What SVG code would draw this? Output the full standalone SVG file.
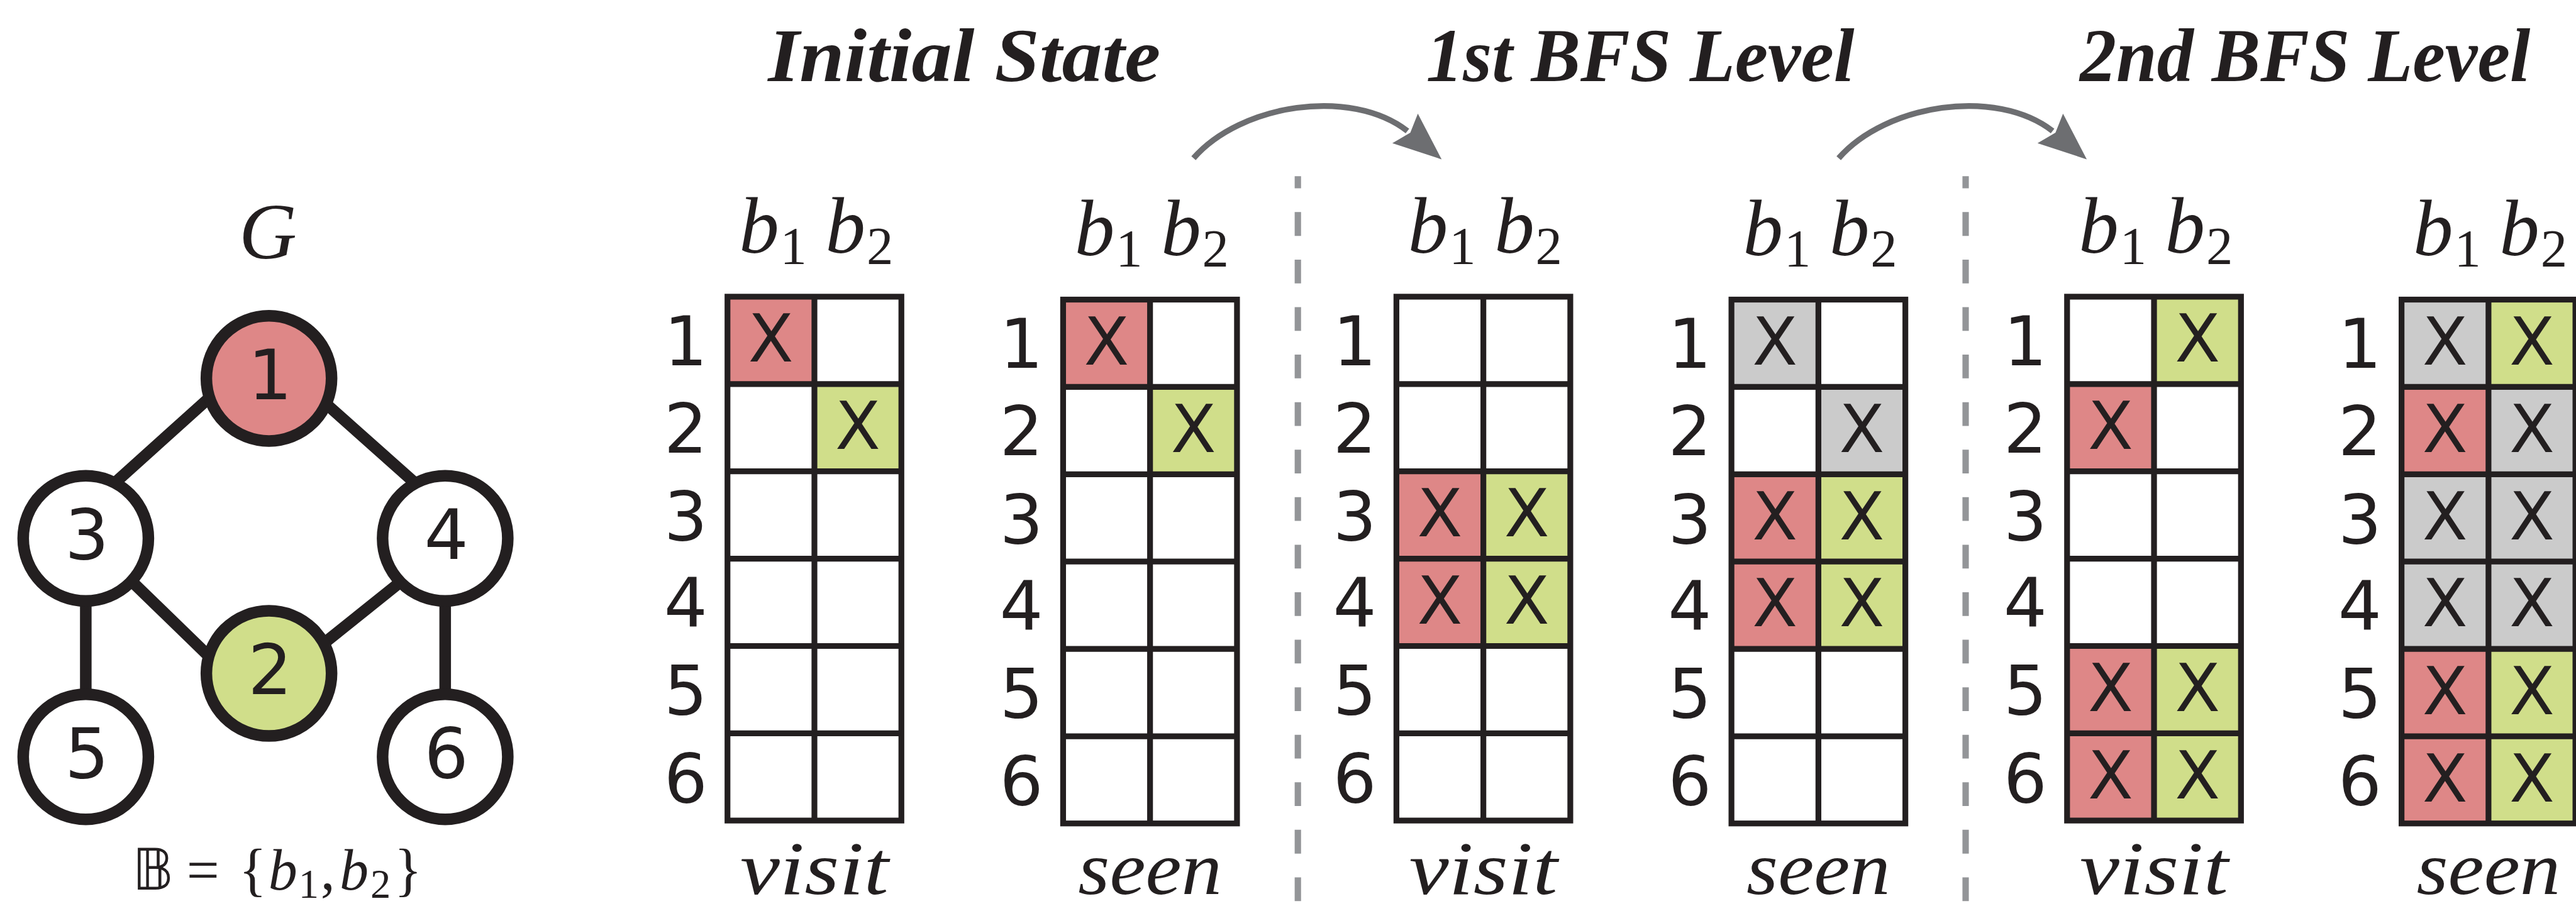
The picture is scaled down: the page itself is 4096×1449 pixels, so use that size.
<svg xmlns="http://www.w3.org/2000/svg" width="4096" height="1449" viewBox="0 0 4096 1449">
<style>
.bg{fill:#ffffff}
.edge{stroke:#231f20;stroke-width:20;fill:none}
.node{stroke:#231f20;stroke-width:20}
.gl{stroke:#231f20;stroke-width:10;fill:none}
.red{fill:#de8787}
.grn{fill:#d0de8a}
.gry{fill:#cbcbcb}
.num{font-family:"DejaVu Sans",sans-serif;font-size:118px;text-anchor:middle;fill:#231f20}
.nn{font-family:"DejaVu Sans",sans-serif;font-size:120px;text-anchor:middle;fill:#231f20}
.x{font-family:"DejaVu Sans",sans-serif;font-size:114px;text-anchor:middle;fill:#231f20}
.mi{font-family:"Liberation Serif",serif;font-style:italic;font-size:138px;fill:#231f20}
.sub{font-family:"Liberation Serif",serif;font-style:normal;font-size:92px;fill:#231f20}
.ttl{font-family:"Liberation Serif",serif;font-style:italic;font-weight:bold;font-size:130px;fill:#231f20}
.lbl{font-family:"Liberation Serif",serif;font-style:italic;font-size:132px;text-anchor:middle;fill:#231f20}
.dash{stroke:#939598;stroke-width:11;stroke-dasharray:41 41;stroke-dashoffset:20;fill:none}
.arr{stroke:#6d6e71;stroke-width:10;fill:none}
.ahead{fill:#6d6e71}
</style>
<defs>
<g id="arrow">
<path class="arr" d="M2059,273 C2140,180 2330,150 2428,226"/>
<polygon class="ahead" points="2487,275 2446,196 2433,229 2402,247"/>
</g>
</defs>
<rect class="bg" x="0" y="0" width="4096" height="1449"/>
<g transform="scale(0.9217)">

<!-- Graph -->
<g id="graph">
<text id="label-G" class="mi" x="462" y="446" font-size="172" text-anchor="middle">G</text>
<g id="edges">
<line class="edge" x1="365" y1="683" x2="195" y2="836"/>
<line class="edge" x1="557" y1="692" x2="721" y2="838"/>
<line class="edge" x1="223" y1="999" x2="364" y2="1136"/>
<line class="edge" x1="695" y1="1001" x2="554" y2="1114"/>
<line class="edge" x1="148" y1="929" x2="148" y2="1306"/>
<line class="edge" x1="768" y1="929" x2="768" y2="1306"/>
</g>
<g id="node1"><circle class="node red" cx="464" cy="653" r="108"/><text class="nn" x="466" y="689">1</text></g>
<g id="node2"><circle class="node grn" cx="464" cy="1162" r="108"/><text class="nn" x="466" y="1198">2</text></g>
<g id="node3"><circle class="node" fill="#fff" cx="148" cy="929" r="108"/><text class="nn" x="150" y="965">3</text></g>
<g id="node4"><circle class="node" fill="#fff" cx="768" cy="929" r="108"/><text class="nn" x="770" y="965">4</text></g>
<g id="node5"><circle class="node" fill="#fff" cx="148" cy="1306" r="108"/><text class="nn" x="150" y="1342">5</text></g>
<g id="node6"><circle class="node" fill="#fff" cx="768" cy="1306" r="108"/><text class="nn" x="770" y="1342">6</text></g>
<text id="bset" y="1535" font-size="100" fill="#231f20" font-family="Liberation Serif,serif"><tspan x="228" font-family="DejaVu Sans,DejaVu Serif,sans-serif" font-size="98">𝔹</tspan><tspan x="322">=</tspan><tspan x="412">{</tspan><tspan x="463" font-style="italic">b</tspan><tspan x="515" y="1549" font-size="70">1</tspan><tspan x="553" y="1535">,</tspan><tspan x="586" font-style="italic">b</tspan><tspan x="639" y="1549" font-size="70">2</tspan><tspan x="680" y="1535">}</tspan></text>
</g>

<!-- Titles -->
<text id="title-initial" class="ttl" x="1325" y="140" textLength="677" lengthAdjust="spacingAndGlyphs">Initial State</text>
<text id="title-1st" class="ttl" x="2460" y="140" textLength="739" lengthAdjust="spacingAndGlyphs">1st BFS Level</text>
<text id="title-2nd" class="ttl" x="3588" y="140" textLength="777" lengthAdjust="spacingAndGlyphs">2nd BFS Level</text>

<!-- Connectors -->
<g id="connectors">
<use href="#arrow"/>
<use href="#arrow" transform="translate(1113,0)"/>
<line class="dash" x1="2239" y1="304" x2="2239" y2="1572"/>
<line class="dash" x1="3391" y1="304" x2="3391" y2="1572"/>
</g>

<!-- Initial visit -->
<g id="visit0">
<rect class="red" x="1255" y="512" width="150" height="150.7"/>
<rect class="grn" x="1405" y="662.7" width="150" height="150.7"/>
<rect class="gl" x="1255" y="512" width="300" height="904"/>
<path class="gl" d="M1405,512V1416 M1255,662.7H1555 M1255,813.4H1555 M1255,964.1H1555 M1255,1114.8H1555 M1255,1265.5H1555"/>
<text class="x" x="1330" y="624">X</text><text class="x" x="1480" y="775">X</text>
<text class="num" x="1183" y="630">1</text><text class="num" x="1183" y="781">2</text><text class="num" x="1183" y="932">3</text><text class="num" x="1183" y="1082">4</text><text class="num" x="1183" y="1233">5</text><text class="num" x="1183" y="1384">6</text>
<text class="mi" x="1275" y="436">b</text><text class="sub" x="1346" y="456">1</text><text class="mi" x="1424" y="436">b</text><text class="sub" x="1495" y="456">2</text>
<text class="lbl" x="1405" y="1543" textLength="256" lengthAdjust="spacingAndGlyphs">visit</text>
</g>

<!-- Initial seen -->
<g id="seen0">
<rect class="red" x="1834" y="517" width="150" height="150.7"/>
<rect class="grn" x="1984" y="667.7" width="150" height="150.7"/>
<rect class="gl" x="1834" y="517" width="300" height="904"/>
<path class="gl" d="M1984,517V1421 M1834,667.7H2134 M1834,818.4H2134 M1834,969.1H2134 M1834,1119.8H2134 M1834,1270.5H2134"/>
<text class="x" x="1909" y="629">X</text><text class="x" x="2059" y="780">X</text>
<text class="num" x="1762" y="635">1</text><text class="num" x="1762" y="786">2</text><text class="num" x="1762" y="937">3</text><text class="num" x="1762" y="1087">4</text><text class="num" x="1762" y="1238">5</text><text class="num" x="1762" y="1389">6</text>
<text class="mi" x="1854" y="440">b</text><text class="sub" x="1925" y="460">1</text><text class="mi" x="2003" y="440">b</text><text class="sub" x="2074" y="460">2</text>
<text class="lbl" x="1984" y="1543" textLength="248" lengthAdjust="spacingAndGlyphs">seen</text>
</g>

<!-- 1st visit -->
<g id="visit1">
<rect class="red" x="2409" y="813.4" width="150" height="150.7"/>
<rect class="grn" x="2559" y="813.4" width="150" height="150.7"/>
<rect class="red" x="2409" y="964.1" width="150" height="150.7"/>
<rect class="grn" x="2559" y="964.1" width="150" height="150.7"/>
<rect class="gl" x="2409" y="512" width="300" height="904"/>
<path class="gl" d="M2559,512V1416 M2409,662.7H2709 M2409,813.4H2709 M2409,964.1H2709 M2409,1114.8H2709 M2409,1265.5H2709"/>
<text class="x" x="2484" y="926">X</text><text class="x" x="2634" y="926">X</text><text class="x" x="2484" y="1076">X</text><text class="x" x="2634" y="1076">X</text>
<text class="num" x="2337" y="630">1</text><text class="num" x="2337" y="781">2</text><text class="num" x="2337" y="932">3</text><text class="num" x="2337" y="1082">4</text><text class="num" x="2337" y="1233">5</text><text class="num" x="2337" y="1384">6</text>
<text class="mi" x="2429" y="436">b</text><text class="sub" x="2500" y="456">1</text><text class="mi" x="2578" y="436">b</text><text class="sub" x="2649" y="456">2</text>
<text class="lbl" x="2559" y="1543" textLength="256" lengthAdjust="spacingAndGlyphs">visit</text>
</g>

<!-- 1st seen -->
<g id="seen1">
<rect class="gry" x="2987" y="517" width="150" height="150.7"/>
<rect class="gry" x="3137" y="667.7" width="150" height="150.7"/>
<rect class="red" x="2987" y="818.4" width="150" height="150.7"/>
<rect class="grn" x="3137" y="818.4" width="150" height="150.7"/>
<rect class="red" x="2987" y="969.1" width="150" height="150.7"/>
<rect class="grn" x="3137" y="969.1" width="150" height="150.7"/>
<rect class="gl" x="2987" y="517" width="300" height="904"/>
<path class="gl" d="M3137,517V1421 M2987,667.7H3287 M2987,818.4H3287 M2987,969.1H3287 M2987,1119.8H3287 M2987,1270.5H3287"/>
<text class="x" x="3062" y="629">X</text><text class="x" x="3212" y="780">X</text><text class="x" x="3062" y="931">X</text><text class="x" x="3212" y="931">X</text><text class="x" x="3062" y="1081">X</text><text class="x" x="3212" y="1081">X</text>
<text class="num" x="2915" y="635">1</text><text class="num" x="2915" y="786">2</text><text class="num" x="2915" y="937">3</text><text class="num" x="2915" y="1087">4</text><text class="num" x="2915" y="1238">5</text><text class="num" x="2915" y="1389">6</text>
<text class="mi" x="3007" y="440">b</text><text class="sub" x="3078" y="460">1</text><text class="mi" x="3156" y="440">b</text><text class="sub" x="3227" y="460">2</text>
<text class="lbl" x="3137" y="1543" textLength="248" lengthAdjust="spacingAndGlyphs">seen</text>
</g>

<!-- 2nd visit -->
<g id="visit2">
<rect class="grn" x="3716" y="512" width="150" height="150.7"/>
<rect class="red" x="3566" y="662.7" width="150" height="150.7"/>
<rect class="red" x="3566" y="1114.8" width="150" height="150.7"/>
<rect class="grn" x="3716" y="1114.8" width="150" height="150.7"/>
<rect class="red" x="3566" y="1265.5" width="150" height="150.7"/>
<rect class="grn" x="3716" y="1265.5" width="150" height="150.7"/>
<rect class="gl" x="3566" y="512" width="300" height="904"/>
<path class="gl" d="M3716,512V1416 M3566,662.7H3866 M3566,813.4H3866 M3566,964.1H3866 M3566,1114.8H3866 M3566,1265.5H3866"/>
<text class="x" x="3791" y="624">X</text><text class="x" x="3641" y="775">X</text><text class="x" x="3641" y="1227">X</text><text class="x" x="3791" y="1227">X</text><text class="x" x="3641" y="1378">X</text><text class="x" x="3791" y="1378">X</text>
<text class="num" x="3494" y="630">1</text><text class="num" x="3494" y="781">2</text><text class="num" x="3494" y="932">3</text><text class="num" x="3494" y="1082">4</text><text class="num" x="3494" y="1233">5</text><text class="num" x="3494" y="1384">6</text>
<text class="mi" x="3586" y="436">b</text><text class="sub" x="3657" y="456">1</text><text class="mi" x="3735" y="436">b</text><text class="sub" x="3806" y="456">2</text>
<text class="lbl" x="3716" y="1543" textLength="256" lengthAdjust="spacingAndGlyphs">visit</text>
</g>

<!-- 2nd seen -->
<g id="seen2">
<rect class="gry" x="4143" y="517" width="150" height="150.7"/>
<rect class="grn" x="4293" y="517" width="150" height="150.7"/>
<rect class="red" x="4143" y="667.7" width="150" height="150.7"/>
<rect class="gry" x="4293" y="667.7" width="150" height="150.7"/>
<rect class="gry" x="4143" y="818.4" width="300" height="301.4"/>
<rect class="red" x="4143" y="1119.8" width="150" height="301.4"/>
<rect class="grn" x="4293" y="1119.8" width="150" height="301.4"/>
<rect class="gl" x="4143" y="517" width="300" height="904"/>
<path class="gl" d="M4293,517V1421 M4143,667.7H4443 M4143,818.4H4443 M4143,969.1H4443 M4143,1119.8H4443 M4143,1270.5H4443"/>
<text class="x" x="4218" y="629">X</text><text class="x" x="4368" y="629">X</text>
<text class="x" x="4218" y="780">X</text><text class="x" x="4368" y="780">X</text>
<text class="x" x="4218" y="931">X</text><text class="x" x="4368" y="931">X</text>
<text class="x" x="4218" y="1081">X</text><text class="x" x="4368" y="1081">X</text>
<text class="x" x="4218" y="1232">X</text><text class="x" x="4368" y="1232">X</text>
<text class="x" x="4218" y="1383">X</text><text class="x" x="4368" y="1383">X</text>
<text class="num" x="4071" y="635">1</text><text class="num" x="4071" y="786">2</text><text class="num" x="4071" y="937">3</text><text class="num" x="4071" y="1087">4</text><text class="num" x="4071" y="1238">5</text><text class="num" x="4071" y="1389">6</text>
<text class="mi" x="4163" y="440">b</text><text class="sub" x="4234" y="460">1</text><text class="mi" x="4312" y="440">b</text><text class="sub" x="4383" y="460">2</text>
<text class="lbl" x="4293" y="1543" textLength="248" lengthAdjust="spacingAndGlyphs">seen</text>
</g>

</g>
</svg>
